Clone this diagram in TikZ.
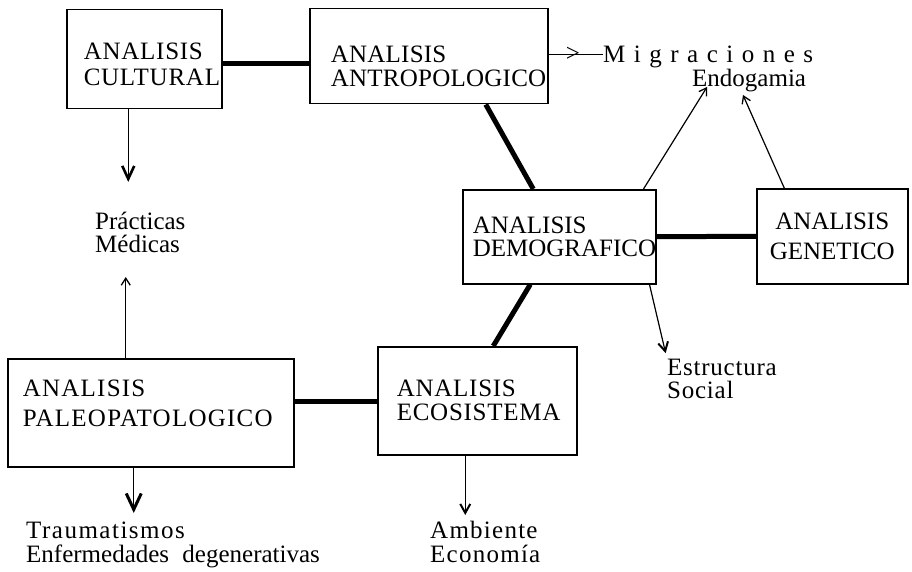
\documentclass[tikz,border=0pt]{standalone}
\usepackage{fontspec}
\setmainfont{Liberation Serif}
\usetikzlibrary{arrows.meta}

\begin{document}
\begin{tikzpicture}[
  x=1pt, y=-1pt,
  font=\fontsize{25}{26}\selectfont,
  box/.style={draw, rectangle, line width=1.5pt, anchor=north west, align=left, inner ysep=0pt},
  link/.style={line width=5pt},
  arr/.style={line width=1.2pt},
  tipbig/.style={arr, -{Straight Barb[length=13pt,width=12pt,line width=2.6pt]}},
  tiphuge/.style={arr, -{Straight Barb[length=16pt,width=15pt,line width=3pt]}},
  tipsmall/.style={arr, -{Straight Barb[length=9pt,width=10pt,line width=2pt]}},
  tipup/.style={arr, -{Straight Barb[length=7pt,width=9pt,line width=1.3pt]}},
  lbl/.style={inner sep=0pt, align=left}
]
\useasboundingbox (0,0) rectangle (912,572);

% cajas
\node[box, minimum width=155pt, minimum height=99pt, text width=121pt, inner xsep=17pt,
  font=\fontsize{25}{26}\selectfont\addfontfeature{LetterSpace=3}] (cultural) at (66,9) {\rule{0pt}{27pt}ANALISIS\\CULTURAL};
\node[box, minimum width=238pt, minimum height=95pt, text width=196pt, inner xsep=21pt,
  font=\fontsize{25}{24}\selectfont\addfontfeature{LetterSpace=1}] (antropologico) at (309,8) {\rule{0pt}{37pt}ANALISIS\\ANTROPOLOGICO};
\node[box, minimum width=193pt, minimum height=94pt, text width=173pt, inner xsep=10pt,
  font=\fontsize{25}{23}\selectfont] (demografico) at (462,189) {ANALISIS\\DEMOGRAFICO};
\node[box, minimum width=151pt, minimum height=95pt, text width=131pt, inner xsep=10pt, align=center,
  font=\fontsize{25}{30}\selectfont] (genetico) at (756,188) {ANALISIS\\GENETICO};
\node[box, minimum width=286pt, minimum height=108pt, text width=256pt, inner xsep=15pt,
  font=\fontsize{25}{30}\selectfont\addfontfeature{LetterSpace=5}] (paleo) at (7,358) {ANALISIS\\PALEOPATOLOGICO\rule[-20pt]{0pt}{20pt}};
\node[box, minimum width=199pt, minimum height=108pt, text width=161pt, inner xsep=19pt,
  font=\fontsize{25}{24}\selectfont\addfontfeature{LetterSpace=3}] (ecosistema) at (377,346) {ANALISIS\\ECOSISTEMA};

% textos
\node[lbl, anchor=north west, font=\fontsize{25}{23}\selectfont] (practicas) at (95,212) {Prácticas\\Médicas};
\node[lbl, anchor=base west, font={\fontsize{25}{26}\selectfont\spaceskip=8.5pt}] (migraciones) at (603,63) {M i g r a c i o n e s};
\node[lbl, anchor=base west] (endogamia) at (692,87) {Endogamia};
\node[lbl, anchor=north west, font=\fontsize{25}{23}\selectfont\addfontfeature{LetterSpace=3}] (estructura) at (667,359) {Estructura\\Social};
\node[lbl, anchor=north west, font=\fontsize{25}{24}\selectfont] (traumatismos) at (26,522) {\addfontfeature{LetterSpace=6}Traumatismos\\Enfermedades\hspace{7pt} degenerativas};
\node[lbl, anchor=north west, font=\fontsize{25}{24}\selectfont\addfontfeature{LetterSpace=5}] (ambiente) at (430,521) {Ambiente\\Economía};

% enlaces gruesos
\draw[link] ([yshift=-4pt]cultural.east) -- ([yshift=-4pt]cultural.east -| antropologico.west);
\draw[link] ([xshift=57pt]antropologico.south) -- ([xshift=-26pt]demografico.north);
\draw[link] (demografico.east) -- (genetico.west);
\draw[link] ([xshift=-29pt]demografico.south) -- ([xshift=16pt]ecosistema.north);
\draw[link] ([yshift=11pt]paleo.east) -- ([yshift=11pt]paleo.east -| ecosistema.west);

% flechas
\draw[tipbig, shorten >=30pt] ([xshift=-16pt]cultural.south) -- ([xshift=-16pt]cultural.south |- practicas.north);
\draw[tipup, shorten >=24pt] ([xshift=-25pt]paleo.north) -- ([xshift=-25pt]paleo.north |- practicas.south);
\draw[tiphuge, shorten >=9pt] ([xshift=-17pt]paleo.south) -- ([xshift=-17pt]paleo.south |- traumatismos.north);
\draw[tipsmall, shorten >=6pt] ([xshift=-12pt]ecosistema.south) -- ([xshift=-12pt]ecosistema.south |- ambiente.north);
\draw[tipsmall, shorten >=6pt] ([xshift=-7pt]demografico.south east) -- (estructura.north west);
\draw[tipup] ([xshift=-13pt]demografico.north east) -- ([xshift=15pt]endogamia.base west);
\draw[tipup] ([xshift=-48pt]genetico.north) -- ([xshift=51pt,yshift=-8pt]endogamia.base west);
\draw[arr] ([yshift=2pt]antropologico.east) -- ([yshift=2pt]antropologico.east -| migraciones.west) node[pos=0.45, inner sep=0pt] {>};
\end{tikzpicture}
\end{document}
